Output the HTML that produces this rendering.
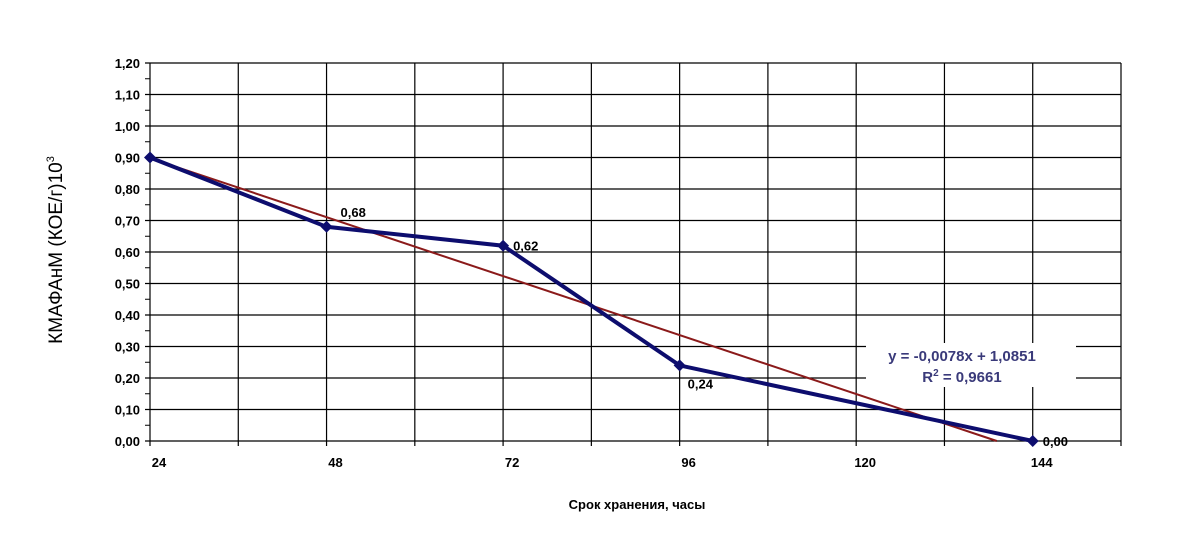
<!DOCTYPE html>
<html><head><meta charset="utf-8"><style>
body{margin:0;background:#fff}
svg{display:block;font-family:"Liberation Sans",Arial,sans-serif}
</style></head><body>
<svg width="1195" height="549" viewBox="0 0 1195 549">
<g id="grid"></g><g id="axes"></g><g id="series"></g>
<text x="62" y="250" transform="rotate(-90 62 250)" text-anchor="middle" font-size="19">КМАФАнМ (КОЕ/г)10<tspan dy="-8" font-size="11">3</tspan></text>
<text x="637" y="509" text-anchor="middle" font-size="13" font-weight="bold">Срок хранения, часы</text>
<rect x="866" y="343" width="210" height="44" fill="#fff"/>
<text x="962" y="361" text-anchor="middle" font-size="15" font-weight="bold" fill="#3a3a7a">y = -0,0078x + 1,0851</text>
<text x="962" y="382" text-anchor="middle" font-size="15" font-weight="bold" fill="#3a3a7a">R<tspan dy="-6" font-size="10">2</tspan><tspan dy="6"> = 0,9661</tspan></text>
</svg>
<script>
const categories=[24,48,72,96,144];
const values=[0.90,0.68,0.62,0.24,0.00];
const labels=["","0,68","0,62","0,24","0,00"];
const yTicks=[0,0.1,0.2,0.3,0.4,0.5,0.6,0.7,0.8,0.9,1.0,1.1,1.2];
const xTicks=[24,48,72,96,120,144];
const slope=-0.0078, intercept=1.0851;
const NS="http://www.w3.org/2000/svg";
const X0=150,X1=1121,Y0=441,Y1=63,xmin=24,xmax=156,ymax=1.2;
const sx=v=>X0+(v-xmin)/(xmax-xmin)*(X1-X0);
const sy=v=>Y0-v/ymax*(Y0-Y1);
function mk(t,a,p){const e=document.createElementNS(NS,t);for(const k in a)e.setAttribute(k,a[k]);document.getElementById(p).appendChild(e);return e;}
for(let h=xmin;h<=xmax+0.1;h+=12){
 const l=mk('line',{x1:sx(h),x2:sx(h),y1:Y1,y2:Y0+5,stroke:'#000','stroke-width':1.2},'grid');
 
 
}
yTicks.forEach((v,i)=>{
 const l=mk('line',{x1:X0-5,x2:X1,y1:sy(v),y2:sy(v),stroke:'#000','stroke-width':1.2},'grid');
 
 
 const t=mk('text',{x:X0-10,y:sy(v)+5,'text-anchor':'end','font-size':13,'font-weight':'bold'},'axes');
 t.textContent=v.toFixed(2).replace('.',',');
 
 
 if(i<yTicks.length-1){
  const m=mk('line',{x1:X0-5,x2:X0,y1:sy(v+0.05),y2:sy(v+0.05),stroke:'#000'},'axes');
  
  
 }
});
xTicks.forEach(v=>{
 const t=mk('text',{x:sx(v)+9,y:Y0+26,'text-anchor':'middle','font-size':13,'font-weight':'bold'},'axes');
 t.textContent=v;
 
 
});
const xEnd=-intercept/slope;
const tl=mk('line',{x1:sx(categories[0]),y1:sy(slope*categories[0]+intercept),x2:sx(xEnd),y2:sy(0),stroke:'#8b1a1a','stroke-width':2},'series');


const pl=mk('polyline',{points:categories.map((c,i)=>sx(c)+','+sy(values[i])).join(' '),fill:'none',stroke:'#0d0d6e','stroke-width':4},'series');


categories.forEach((c,i)=>{
 const x=sx(c),y=sy(values[i]);
 const d=mk('polygon',{points:`${x},${y-6} ${x+6},${y} ${x},${y+6} ${x-6},${y}`,fill:'#0d0d6e'},'series');
 
 
 if(labels[i]){
  const below=i===3;
  const t=mk('text',{x:x+(i===1?14:i===3?8:10),y:below?y+23:(i===1?y-10:y+5),'font-size':13,'font-weight':'bold'},'series');
  t.textContent=labels[i];
  
  
 }
});
</script>
</body></html>
